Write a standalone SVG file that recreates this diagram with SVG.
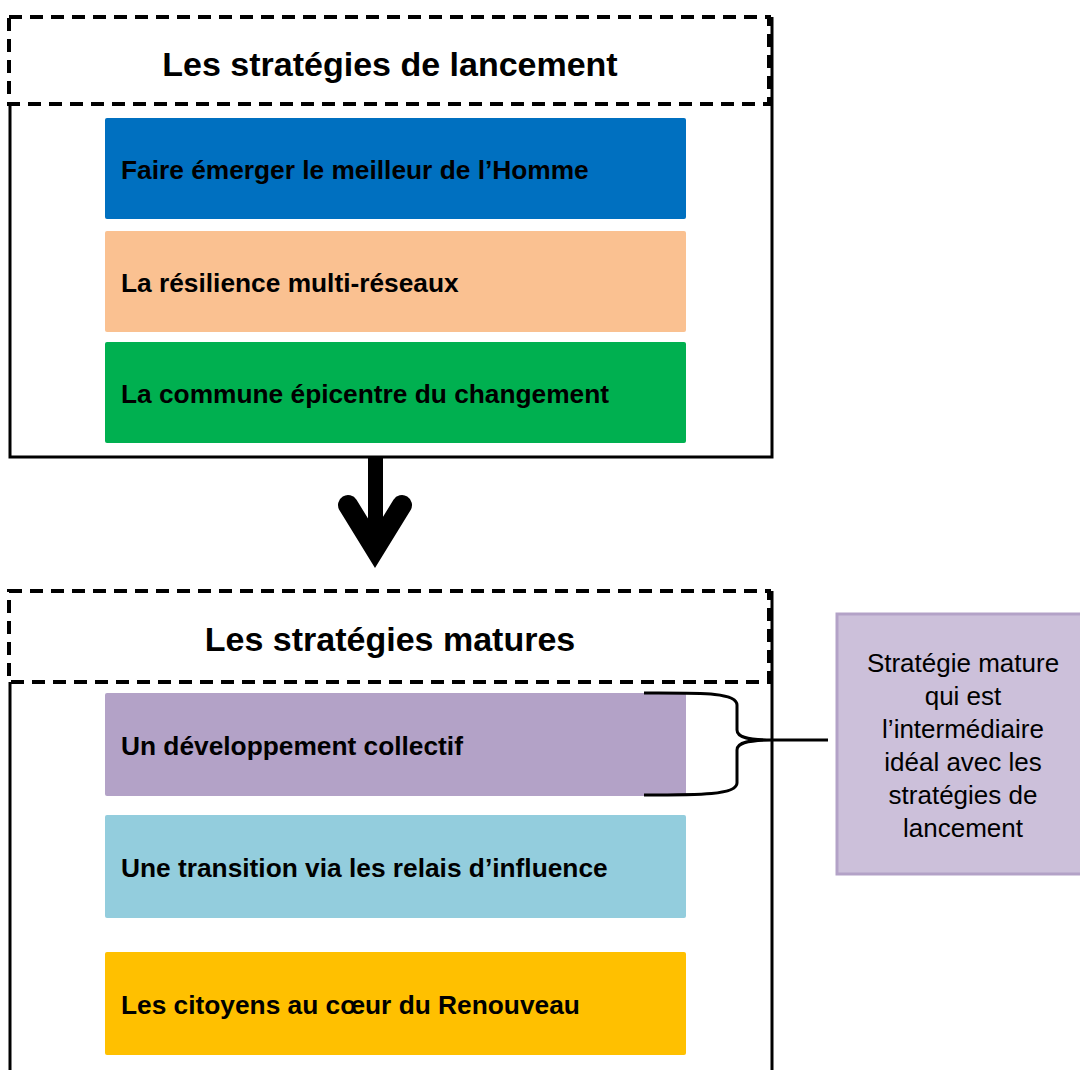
<svg xmlns="http://www.w3.org/2000/svg" width="1080" height="1070" viewBox="0 0 1080 1070">
<style>
.frame{fill:none;stroke:#000;stroke-width:3}
.head{fill:#fff;stroke:#000;stroke-width:4;stroke-dasharray:13 8}
.title{font-family:"Liberation Sans",Arial,sans-serif;font-weight:bold;font-size:34px;fill:#000;text-anchor:middle}
.lbl{font-family:"Liberation Sans",Arial,sans-serif;font-weight:bold;font-size:26.3px;fill:#000}
.note{font-family:"Liberation Sans",Arial,sans-serif;font-size:26px;fill:#000;text-anchor:middle}
</style>
<rect width="1080" height="1070" fill="#fff"/>
<g id="launch">
<path class="frame" d="M10,104 V457 H772 V17"/>
<rect class="head" x="9" y="17" width="760" height="87"/>
<text class="title" x="390" y="76">Les stratégies de lancement</text>
</g>
<g id="n1"><rect x="105" y="118" width="581" height="101" rx="2" fill="#0070C0"/><text class="lbl" x="121" y="179">Faire émerger le meilleur de l’Homme</text></g>
<g id="n2"><rect x="105" y="231" width="581" height="101" rx="2" fill="#FAC191"/><text class="lbl" x="121" y="292">La résilience multi-réseaux</text></g>
<g id="n3"><rect x="105" y="342" width="581" height="101" rx="2" fill="#00B050"/><text class="lbl" x="121" y="403">La commune épicentre du changement</text></g>
<g id="mature">
<path class="frame" d="M10,682 V1075 M772,591 V1075"/>
<rect class="head" x="9" y="591" width="760" height="91"/>
<text class="title" x="390" y="651">Les stratégies matures</text>
</g>
<g id="n4"><rect x="105" y="693" width="581" height="103" rx="2" fill="#B3A2C7"/><text class="lbl" x="121" y="755">Un développement collectif</text></g>
<g id="n5"><rect x="105" y="815" width="581" height="103" rx="2" fill="#93CDDD"/><text class="lbl" x="121" y="877">Une transition via les relais d’influence</text></g>
<g id="n6"><rect x="105" y="952" width="581" height="103" rx="2" fill="#FFC000"/><text class="lbl" x="121" y="1014">Les citoyens au cœur du Renouveau</text></g>
<g id="note">
<rect x="837" y="614" width="250" height="260" fill="#CCC0DA" stroke="#B3A2C7" stroke-width="3"/>
<text class="note"><tspan x="963" y="672">Stratégie mature</tspan><tspan x="963" y="705">qui est</tspan><tspan x="963" y="738">l’intermédiaire</tspan><tspan x="963" y="771">idéal avec les</tspan><tspan x="963" y="804">stratégies de</tspan><tspan x="963" y="837">lancement</tspan></text>
</g>
<g id="connectors">
<rect x="368" y="457" width="15" height="85" fill="#000"/>
<polyline points="348,505 375,549 402,505" fill="none" stroke="#000" stroke-width="20" stroke-linecap="round" stroke-linejoin="miter" stroke-miterlimit="10"/>
<path d="M644,693 C700,693 737,692 737,705 V730 C737,738 750,740 772,740 C750,740 737,742 737,750 V783 C737,795 700,795 644,795 M772,740 H828" fill="none" stroke="#000" stroke-width="3"/>
</g>
</svg>
